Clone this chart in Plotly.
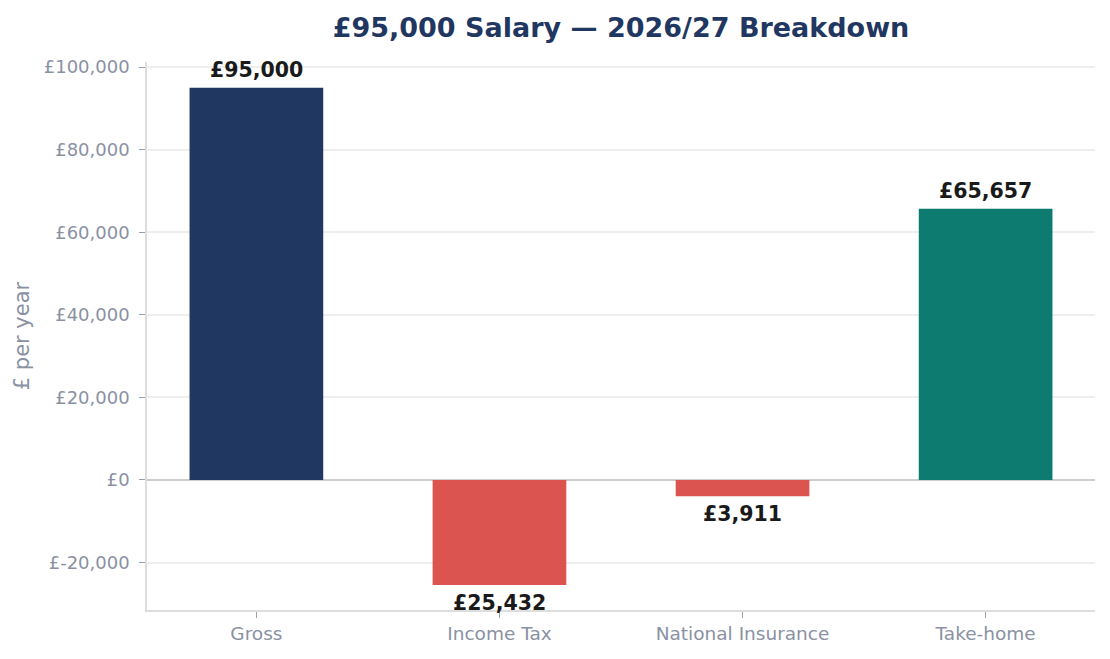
import plotly.graph_objects as go

# Salary breakdown values (negative = deductions)
categories = ["Gross", "Income Tax", "National Insurance", "Take-home"]
amounts = [95000, -25432, -3911, 65657]
bar_colors = ["#1f3761", "#db544f", "#db544f", "#0e7b71"]

labels = ["£{:,}".format(abs(v)) for v in amounts]

grey = "#8a91a3"

fig = go.Figure(go.Bar(
    x=categories,
    y=amounts,
    marker=dict(color=bar_colors, line=dict(width=0)),
    customdata=labels,
    hovertemplate="%{x}: %{customdata}<extra></extra>",
))

# value labels just beyond the end of each bar
for cat, val, lab in zip(categories, amounts, labels):
    fig.add_annotation(
        x=cat, y=val, text="<b>" + lab + "</b>", showarrow=False,
        yanchor="bottom" if val >= 0 else "top",
        yshift=4 if val >= 0 else -4,
        font=dict(family="DejaVu Sans", size=20.5, color="#1a1a1a"),
    )

fig.update_layout(
    width=1094,
    height=643,
    title=dict(
        text="<b>£95,000 Salary — 2026/27 Breakdown</b>",
        x=0.5, xref="paper", xanchor="center",
        y=0.970, yref="container", yanchor="middle",
        font=dict(family="DejaVu Sans", size=27, color="#1f3761"),
    ),
    font=dict(family="DejaVu Sans", size=18, color=grey),
    paper_bgcolor="white",
    plot_bgcolor="white",
    bargap=0.45,
    showlegend=False,
    margin=dict(l=139, r=7, t=54, b=41),
)

fig.update_xaxes(
    range=[-0.45, 3.45],
    showline=True, linecolor="#dddddd", linewidth=1.5,
    ticks="outside", ticklen=6, tickcolor="#999fae",
    tickfont=dict(size=18.5, color=grey),
    showgrid=False,
)

fig.update_yaxes(
    range=[-31480, 101210],
    tickvals=[-20000, 0, 20000, 40000, 60000, 80000, 100000],
    ticktext=["£-20,000", "£0", "£20,000", "£40,000", "£60,000", "£80,000", "£100,000"],
    showline=True, linecolor="#dddddd", linewidth=1.5,
    ticks="outside", ticklen=6, tickcolor="#999fae",
    tickfont=dict(size=18, color=grey),
    ticklabelstandoff=6,
    gridcolor="#eeeeee", gridwidth=1.5,
    zeroline=True, zerolinecolor="#cccccc", zerolinewidth=1.5,
    title=dict(text="£ per year", font=dict(size=21, color=grey), standoff=8),
)

fig.write_html("out.html")
